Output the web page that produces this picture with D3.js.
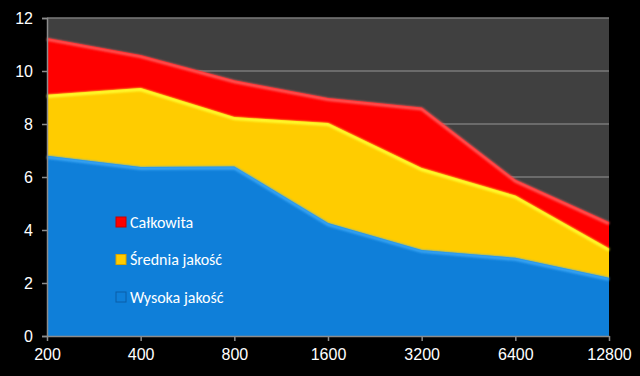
<!DOCTYPE html>
<html>
<head>
<meta charset="utf-8">
<script src="https://cdn.jsdelivr.net/npm/d3@7"></script>
<style>
  html, body { margin: 0; padding: 0; background: #000; }
  svg { display: block; font-family: Calibri, Carlito, "Liberation Sans", "Open Sans", sans-serif; }
</style>
</head>
<body>
<div id="chart"></div>
<script>
const width = 640;
const height = 376;

// data
const categories = ["200", "400", "800", "1600", "3200", "6400", "12800"];
const calkowita = [11.25, 10.6, 9.65, 8.98, 8.62, 5.9, 4.3];
const srednia = [9.1, 9.36, 8.26, 8.04, 6.34, 5.3, 3.3];
const wysoka = [6.8, 6.38, 6.4, 4.26, 3.25, 2.95, 2.2];
const yTicks = [0, 2, 4, 6, 8, 10, 12];

const series = [
    { name: "Całkowita", values: calkowita, color: "#ff0000", light: "#ff5a5a", dark: "#c80000" },
    { name: "Średnia jakość", values: srednia, color: "#ffcc00", light: "#ffff33", dark: "#d9a400" },
    { name: "Wysoka jakość", values: wysoka, color: "#0f7fd9", light: "#3aa6f5", dark: "#0a5ea8" }
];

const margin = { top: 18, right: 31, bottom: 40, left: 47 };

const x = d3.scalePoint().domain(categories).range([margin.left, width - margin.right]);
const y = d3.scaleLinear().domain([0, 12]).range([height - margin.bottom, margin.top]);

const svg = d3.select("#chart").append("svg")
    .attr("width", width)
    .attr("height", height)
    .attr("viewBox", [0, 0, width, height]);

svg.append("rect").attr("width", width).attr("height", height).attr("fill", "#000");

// plot background
svg.append("rect")
    .attr("x", margin.left)
    .attr("y", margin.top)
    .attr("width", width - margin.right - margin.left)
    .attr("height", y(0) - margin.top)
    .attr("fill", "#404040");

// gridlines
svg.append("g")
    .selectAll("line")
    .data(yTicks.filter(d => d > 0))
    .join("line")
    .attr("x1", margin.left)
    .attr("x2", width - margin.right)
    .attr("y1", d => y(d))
    .attr("y2", d => y(d))
    .attr("stroke", "#7a7a7a")
    .attr("stroke-width", 1.5);

const area = d3.area()
    .x((d, i) => x(categories[i]))
    .y0(y(0))
    .y1(d => y(d));

const line = d3.line()
    .x((d, i) => x(categories[i]))
    .y(d => y(d));

const defs = svg.append("defs");
defs.append("filter").attr("id", "soft")
    .append("feGaussianBlur").attr("stdDeviation", 0.8);

// draw areas back to front
series.forEach(s => {
    svg.append("path")
        .datum(s.values)
        .attr("d", area)
        .attr("fill", s.color);
    // bevel highlight along the top edge
    svg.append("path")
        .datum(s.values)
        .attr("d", line)
        .attr("fill", "none")
        .attr("stroke", s.light)
        .attr("stroke-width", 3)
        .attr("transform", "translate(0,1.5)")
        .attr("filter", "url(#soft)");
});

// axes
const axisColor = "#8c8c8c";
const yAxis = svg.append("g")
    .attr("transform", `translate(${margin.left},0)`)
    .call(d3.axisLeft(y).tickValues(yTicks).tickSize(5).tickPadding(9));
yAxis.select(".domain").attr("stroke", axisColor).attr("stroke-width", 1.5);
yAxis.selectAll(".tick line").attr("stroke", axisColor).attr("stroke-width", 1.5);
yAxis.selectAll(".tick text").attr("fill", "#fff").attr("font-size", 16);

const xAxis = svg.append("g")
    .attr("transform", `translate(0,${y(0)})`)
    .call(d3.axisBottom(x).tickSize(5).tickPadding(8).tickSizeOuter(0));
xAxis.select(".domain").attr("stroke", axisColor).attr("stroke-width", 1.5);
xAxis.selectAll(".tick line").attr("stroke", axisColor).attr("stroke-width", 1.5);
xAxis.selectAll(".tick text").attr("fill", "#fff").attr("font-size", 16);

// legend
const legend = svg.append("g").attr("transform", "translate(116,222)");
const items = legend.selectAll("g")
    .data(series)
    .join("g")
    .attr("transform", (d, i) => `translate(0,${i * 37.5})`);
items.append("rect")
    .attr("x", 0).attr("y", -5)
    .attr("width", 10).attr("height", 10)
    .attr("fill", d => d.color)
    .attr("stroke", d => d.dark)
    .attr("stroke-width", 1);
items.append("text")
    .attr("x", 14)
    .attr("y", 0)
    .attr("dy", "0.35em")
    .attr("fill", "#fff")
    .attr("font-size", 16)
    .text(d => d.name);
</script>
</body>
</html>
